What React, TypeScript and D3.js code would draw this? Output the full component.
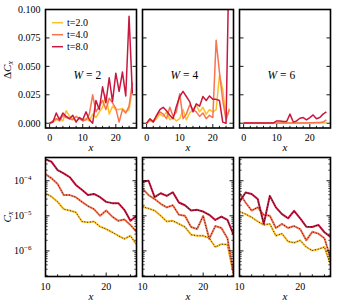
import React from "react";
import * as d3 from "d3";

const times = ["t=2.0", "t=4.0", "t=8.0"];
const colors = ["#fcc02c", "#f97350", "#c9173f"];
const widths = ["W = 2", "W = 4", "W = 6"];

// Delta C_x, x = 0..25, per W, per t
const xTop = d3.range(0, 26);
const dW2t2 = [0, 0.001, 0.003, 0.005, 0.002, 0.011, 0.006, 0.004, 0.002, 0.005, 0.003, 0.004, 0.002, 0.008, 0.005, 0.01, 0.014, 0.025, 0.008, 0.015, 0.012, 0.012, 0.013, 0.01, 0.012, 0.03];
const dW2t4 = [0, 0.002, 0.004, 0.002, 0.007, 0.005, 0.004, 0.003, 0.006, 0.004, 0.002, 0.003, 0.008, 0.025, 0.01, 0.015, 0.02, 0.012, 0.022, 0.018, 0.013, 0.001, 0.012, 0.009, 0.015, 0.036];
const dW2t8 = [0, 0.001, 0.009, 0.003, 0.009, 0.006, 0.004, 0.007, 0.001, 0.005, 0.003, 0.01, 0.003, 0.0, 0.02, 0.012, 0.032, 0.018, 0.04, 0.019, 0.044, 0.028, 0.045, 0.024, 0.094, 0.026];
const dW4t2 = [0, 0.002, 0.001, 0.004, 0.008, 0.006, 0.01, 0.003, 0.005, 0.002, 0.004, 0.012, 0.003, 0.009, 0.012, 0.016, 0.01, 0.014, 0.008, 0.012, 0.01, 0.012, 0.042, 0.03, 0.004, 0.013];
const dW4t4 = [0, 0.003, 0.002, 0.006, 0.01, 0.008, 0.004, 0.014, 0.006, 0.01, 0.026, 0.004, 0.008, 0.016, 0.012, 0.01, 0.006, 0.009, 0.004, 0.007, 0.005, 0.073, 0.045, 0.02, 0.003, 0.012];
const dW4t8 = [0, 0.004, 0.001, 0.007, 0.012, 0.014, 0.011, 0.007, 0.004, 0.015, 0.0235, 0.028, 0.0235, 0.019, 0.01, 0.017, 0.015, 0.0235, 0.02, 0.024, 0.021, 0.021, 0.02, 0.001, 0.0, 0.16];
const dW6t2 = [0.0002, 0.0002, 0.0002, 0.0002, 0.0002, 0.0002, 0.0002, 0.0002, 0.0002, 0.0002, 0.0002, 0.0002, 0.0002, 0.0002, 0.0002, 0.0002, 0.0002, 0.0002, 0.0002, 0.0002, 0.0002, 0.0002, 0.0002, 0.0002, 0.0003, 0.0005];
const dW6t4 = [0.0003, 0.0003, 0.0003, 0.0003, 0.0003, 0.0003, 0.0003, 0.0003, 0.0003, 0.0003, 0.0003, 0.0003, 0.0003, 0.0003, 0.0003, 0.0003, 0.0003, 0.0003, 0.0003, 0.0003, 0.0004, 0.0005, 0.0006, 0.0007, 0.001, 0.003];
const dW6t8 = [0.0003, 0.0003, 0.0003, 0.0003, 0.0003, 0.0003, 0.0003, 0.0003, 0.0003, 0.0003, 0.002, 0.002, 0.0015, 0.0015, 0.008, 0.001, 0.002, 0.0044, 0.005, 0.003, 0.005, 0.0073, 0.004, 0.005, 0.008, 0.01];

// C_x, x = 10..25
const xBot = d3.range(10, 26);
const cW2t2 = [4.4e-5, 3.5e-5, 2.5e-5, 1.55e-5, 1.41e-5, 1.26e-5, 6.9e-6, 6.5e-6, 6.9e-6, 4.9e-6, 4.2e-6, 3.4e-6, 2.7e-6, 2.2e-6, 2.7e-6, 1.5e-6];
const cW2t4 = [1.55e-4, 1.17e-4, 8.1e-5, 3.9e-5, 3.9e-5, 3.4e-5, 2.5e-5, 1.9e-5, 1.55e-5, 1.0e-5, 1.41e-5, 9.5e-6, 7.2e-6, 7.9e-6, 5.5e-6, 3.5e-6];
const cW2t8 = [4.07e-4, 3.47e-4, 2.0e-4, 1.62e-4, 1.26e-4, 7.6e-5, 5.5e-5, 3.9e-5, 4.2e-5, 3.4e-5, 2.5e-5, 2.3e-5, 2.3e-5, 1.48e-5, 7.2e-6, 1.0e-5];
const cW4t2 = [1.82e-5, 1.62e-5, 1.41e-5, 1.0e-5, 6.9e-6, 7.2e-6, 5.9e-6, 4.8e-6, 2.9e-6, 2.7e-6, 2.7e-6, 2.3e-6, 1.29e-6, 1.55e-6, 1.51e-6, 2.2e-7];
const cW4t4 = [6.0e-5, 3.9e-5, 3.0e-5, 2.2e-5, 1.74e-5, 2.0e-5, 1.07e-5, 1.0e-5, 4.8e-6, 4.2e-6, 1.0e-5, 2.2e-6, 5.1e-6, 4.5e-6, 2.3e-6, 2.3e-7];
const cW4t8 = [9.3e-5, 1.0e-4, 3.4e-5, 4.4e-5, 3.7e-5, 4.7e-5, 2.4e-5, 2.0e-5, 1.41e-5, 1.48e-5, 1.32e-5, 1.07e-5, 7.6e-6, 9.5e-6, 7.6e-6, 2.9e-6];
const cW6t2 = [1.32e-5, 1.12e-5, 9.1e-6, 6.9e-6, 5.5e-6, 5.9e-6, 2.7e-6, 3.1e-6, 1.86e-6, 1.7e-6, 2.0e-6, 1.29e-6, 1.02e-6, 1.12e-6, 1.29e-6, 4.1e-7];
const cW6t4 = [4.4e-5, 2.4e-5, 1.41e-5, 1.74e-5, 1.07e-5, 1.0e-5, 4.5e-6, 5.9e-6, 4.5e-6, 5.1e-6, 4.2e-6, 2.0e-6, 3.5e-6, 3.1e-6, 2.3e-6, 6.3e-7];
const cW6t8 = [2.5e-5, 4.6e-5, 4.2e-5, 3.0e-5, 5.9e-6, 3.7e-5, 1.74e-5, 1.12e-5, 8.5e-6, 1.38e-5, 8.5e-6, 4.9e-6, 4.8e-6, 5.5e-6, 3.4e-6, 2.5e-6];

const topSeries = [[dW2t2, dW2t4, dW2t8], [dW4t2, dW4t4, dW4t8], [dW6t2, dW6t4, dW6t8]];
const botSeries = [[cW2t2, cW2t4, cW2t8], [cW4t2, cW4t4, cW4t8], [cW6t2, cW6t4, cW6t8]];

const topYTicks = [0, 0.025, 0.05, 0.075, 0.1];
const topXTicks = [0, 10, 20];
const botXTicks = [10, 20];
const botDecades = [-4, -5, -6];

const W = 338, H = 307;
const lefts = [45.5, 142.5, 239.5];
const pw = 91;
const topY0 = 9.5, topH = 118.5;
const botY0 = 157.5, botH = 119;
const font = "'Liberation Serif', 'DejaVu Serif', serif";

export default function App() {
  const yTop = d3.scaleLinear().domain([-0.0042, 0.1]).range([topY0 + topH, topY0]);
  const yBot = d3.scaleLog().domain([1.86e-7, 4.6e-4]).range([botY0 + botH, botY0]);
  const minorLog: number[] = [];
  for (let e = -7; e <= -4; e++) for (let m = 2; m <= 9; m++) {
    const v = m * Math.pow(10, e);
    if (v > 1.86e-7 && v < 4.6e-4) minorLog.push(v);
  }

  return (
    <svg width={W} height={H} style={{ position: "absolute", left: 0, top: 0, background: "#fff" }}
      fontFamily={font}>
      <defs>
        {lefts.map((l, i) => (
          <React.Fragment key={i}>
            <clipPath id={`ct${i}`}><rect x={l} y={topY0} width={pw} height={topH} /></clipPath>
            <clipPath id={`cb${i}`}><rect x={l} y={botY0} width={pw} height={botH} /></clipPath>
          </React.Fragment>
        ))}
      </defs>

      {lefts.map((l, i) => {
        const xs = d3.scaleLinear().domain([-1.25, 26.25]).range([l, l + pw]);
        const xb = d3.scaleLinear().domain([10, 25]).range([l, l + pw]);
        const lineT = d3.line<number>().x((_, k) => xs(xTop[k])).y(d => yTop(d));
        const lineB = d3.line<number>().x((_, k) => xb(xBot[k])).y(d => yBot(d));
        const tb = topY0 + topH, bb = botY0 + botH, r = l + pw;
        return (
          <g key={i}>
            {/* top row */}
            <g clipPath={`url(#ct${i})`}>
              {topSeries[i].map((s, j) => (
                <path key={j} d={lineT(s) || ""} fill="none" stroke={colors[j]} strokeWidth={1.5} strokeLinejoin="round" />
              ))}
            </g>
            {d3.range(0, 26, 2).map(t => (
              <line key={"tx" + t} x1={xs(t)} x2={xs(t)} y1={tb} y2={tb - (t % 10 === 0 ? 4 : 2.2)} stroke="#000" strokeWidth={0.9} />
            ))}
            {topYTicks.map(t => (
              <g key={"ty" + t}>
                <line x1={l} x2={l + 4} y1={yTop(t)} y2={yTop(t)} stroke="#000" strokeWidth={0.9} />
                <line x1={r} x2={r - 4} y1={yTop(t)} y2={yTop(t)} stroke="#000" strokeWidth={0.9} />
              </g>
            ))}
            {topXTicks.map(t => (
              <text key={"txl" + t} x={xs(t)} y={141} fontSize={10} textAnchor="middle">{t}</text>
            ))}
            {i === 0 && topYTicks.map(t => (
              <text key={"tyl" + t} x={l - 5} y={yTop(t) + 3.5} fontSize={10} textAnchor="end">{t.toFixed(3)}</text>
            ))}
            <text x={l + pw / 2} y={151} fontSize={11} fontStyle="italic" textAnchor="middle">x</text>
            <text x={l + pw * 0.46} y={79} fontSize={11.5} textAnchor="middle">
              <tspan fontStyle="italic">W</tspan>{widths[i].slice(1)}
            </text>
            <rect x={l} y={topY0} width={pw} height={topH} fill="none" stroke="#000" strokeWidth={1.6} />

            {/* bottom row */}
            <g clipPath={`url(#cb${i})`}>
              {botSeries[i].map((s, j) => (
                <g key={j}>
                  <path d={lineB(s) || ""} fill="none" stroke={colors[j]} strokeWidth={2} strokeLinejoin="round" />
                  <path d={lineB(s) || ""} fill="none" stroke="#000" strokeWidth={0.8} strokeDasharray="1,1.8" />
                </g>
              ))}
            </g>
            {d3.range(10, 26, 2).map(t => (
              <line key={"bx" + t} x1={xb(t)} x2={xb(t)} y1={bb} y2={bb - (t % 10 === 0 ? 4 : 2.2)} stroke="#000" strokeWidth={0.9} />
            ))}
            {botDecades.map(e => (
              <g key={"bd" + e}>
                <line x1={l} x2={l + 4} y1={yBot(Math.pow(10, e))} y2={yBot(Math.pow(10, e))} stroke="#000" strokeWidth={0.9} />
                <line x1={r} x2={r - 4} y1={yBot(Math.pow(10, e))} y2={yBot(Math.pow(10, e))} stroke="#000" strokeWidth={0.9} />
              </g>
            ))}
            {minorLog.map(v => (
              <g key={"bm" + v}>
                <line x1={l} x2={l + 2.2} y1={yBot(v)} y2={yBot(v)} stroke="#000" strokeWidth={0.7} />
                <line x1={r} x2={r - 2.2} y1={yBot(v)} y2={yBot(v)} stroke="#000" strokeWidth={0.7} />
              </g>
            ))}
            {botXTicks.map(t => (
              <text key={"bxl" + t} x={xb(t)} y={290} fontSize={10} textAnchor="middle">{t}</text>
            ))}
            {i === 0 && botDecades.map(e => (
              <text key={"byl" + e} x={l - 14} y={yBot(Math.pow(10, e)) + 3.5} fontSize={10} textAnchor="end">
                10<tspan fontSize={7} dy={-4.5}>{"\u2212" + Math.abs(e)}</tspan>
              </text>
            ))}
            <text x={l + pw / 2} y={300} fontSize={11} fontStyle="italic" textAnchor="middle">x</text>
            <rect x={l} y={botY0} width={pw} height={botH} fill="none" stroke="#000" strokeWidth={1.6} />
          </g>
        );
      })}

      {/* legend */}
      {times.map((t, j) => (
        <g key={t}>
          <line x1={52} x2={63} y1={22.7 + j * 12} y2={22.7 + j * 12} stroke={colors[j]} strokeWidth={1.5} />
          <text x={67} y={26.2 + j * 12} fontSize={10}>{t}</text>
        </g>
      ))}

      {/* y labels */}
      <text transform="translate(11,70) rotate(-90)" fontSize={11} textAnchor="middle">
        {"\u0394"}<tspan fontStyle="italic">C</tspan><tspan fontStyle="italic" fontSize={8} dy={2}>x</tspan>
      </text>
      <text transform="translate(11,217) rotate(-90)" fontSize={11} textAnchor="middle">
        <tspan fontStyle="italic">C</tspan><tspan fontStyle="italic" fontSize={8} dy={2}>x</tspan>
      </text>
    </svg>
  );
}
